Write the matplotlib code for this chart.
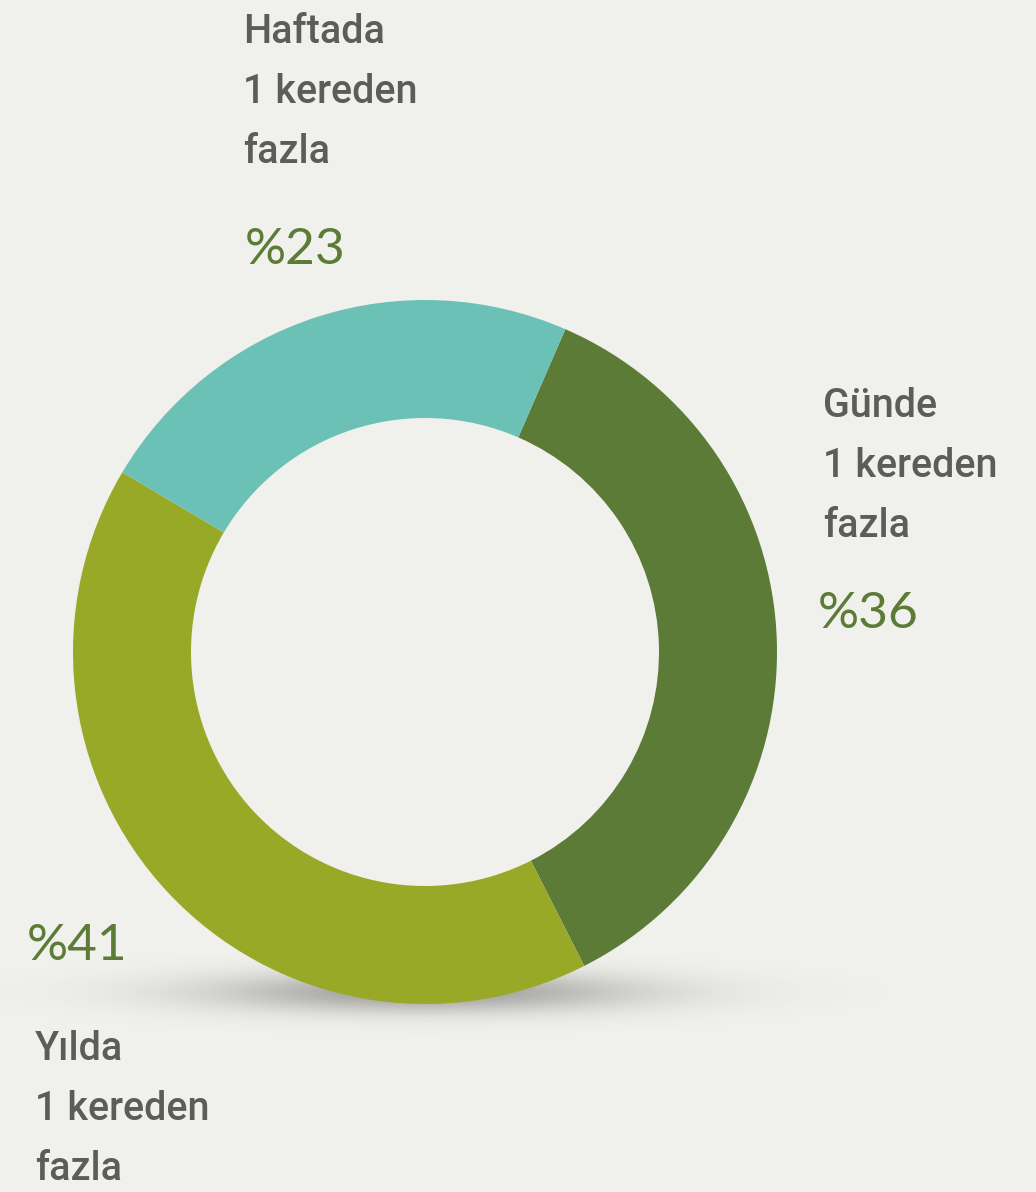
import numpy as np
import matplotlib
matplotlib.use("Agg")
import matplotlib.pyplot as plt

labels = ["Günde\n1 kereden\nfazla", "Yılda\n1 kereden\nfazla", "Haftada\n1 kereden\nfazla"]
values = [36, 41, 23]
pct_labels = ["%36", "%41", "%23"]
colors = ["#5c7b37", "#98a927", "#6bc1b6"]

bg = "#f0f0ec"
gray = "#5c5c5c"
green = "#5c7b37"

W, H = 1036, 1192
fig = plt.figure(figsize=(W / 100, H / 100), dpi=100, facecolor=bg)
ax = fig.add_axes([0, 0, 1, 1])

cx, cy, R = 425, H - 652, 352

# soft shadow under the ring
xs = np.linspace(0, W, 400)
ys = np.linspace(H - 1070, H - 930, 140)
XX, YY = np.meshgrid(xs, ys)
a = np.exp(-((XX - cx) / 210) ** 2 - ((YY - (H - 992)) / 20) ** 2) * 0.5
img = np.zeros(XX.shape + (4,))
img[..., :3] = 0.3
img[..., 3] = a
ax.imshow(img, extent=[0, W, H - 1070, H - 930], origin="lower", zorder=0,
          interpolation="bilinear", aspect="auto")

ax.pie(values, colors=colors, startangle=90 - 23.5, counterclock=False,
       center=(cx, cy), radius=R, wedgeprops=dict(width=118, linewidth=0),
       frame=True)
ax.set_xlim(0, W)
ax.set_ylim(0, H)
ax.set_aspect("equal")
ax.axis("off")

# (x, first baseline) of label blocks, in pixels from top
label_pos = [(823, 417), (35, 1060), (243, 43)]
pct_pos = [(818, 628), (27, 960), (245, 264)]
for lab, (x, y) in zip(labels, label_pos):
    for i, line in enumerate(lab.split("\n")):
        fig.text(x / W, 1 - (y + 60 * i) / H, line, color=gray, fontsize=28.5,
                 family="Roboto", fontweight="medium", va="baseline", ha="left")
for p, (x, y) in zip(pct_labels, pct_pos):
    fig.text(x / W, 1 - y / H, p, color=green, fontsize=37, family="Lato",
             va="baseline", ha="left")

fig.savefig("out.png", dpi=100, facecolor=bg)
